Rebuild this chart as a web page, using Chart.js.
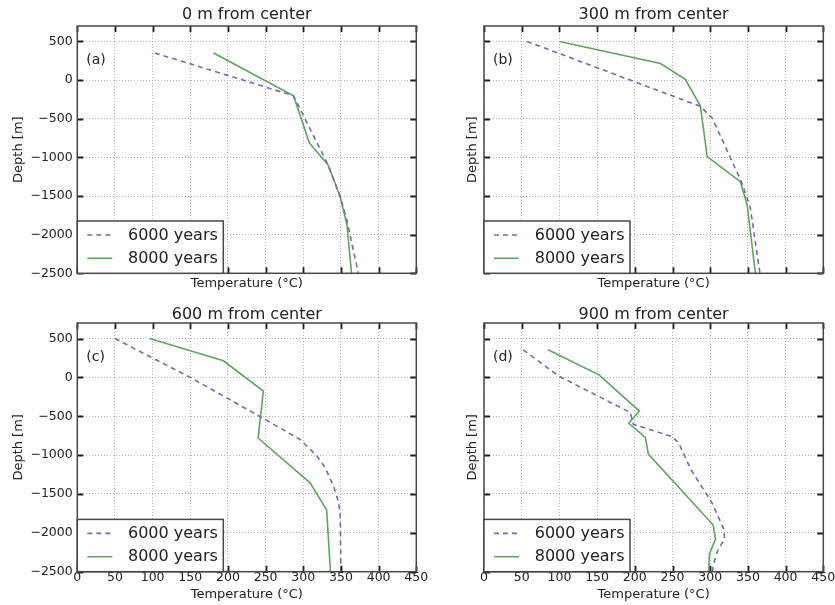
<!DOCTYPE html>
<html>
<head>
<meta charset="utf-8">
<script src="https://cdn.jsdelivr.net/npm/chart.js@4.4.1/dist/chart.umd.min.js"></script>
<style>
  html, body { margin: 0; padding: 0; background: #ffffff; }
  body { width: 835px; height: 605px; position: relative; overflow: hidden; font-family: "DejaVu Sans", sans-serif; }
  canvas { position: absolute; }
</style>
</head>
<body>
<canvas id="ca" width="440" height="300" style="left:0px;top:0px"></canvas>
<canvas id="cb" width="395" height="300" style="left:440px;top:0px"></canvas>
<canvas id="cc" width="440" height="305" style="left:0px;top:300px"></canvas>
<canvas id="cd" width="395" height="305" style="left:440px;top:300px"></canvas>
<script>
// ---------- data ----------
const xTicks = [0, 50, 100, 150, 200, 250, 300, 350, 400, 450];
const yTicks = [-2500, -2000, -1500, -1000, -500, 0, 500];
const panelTitles = ['0 m from center', '300 m from center', '600 m from center', '900 m from center'];
const panelLetters = ['(a)', '(b)', '(c)', '(d)'];
const seriesNames = ['6000 years', '8000 years'];
const xAxisTitle = 'Temperature (°C)';
const yAxisTitle = 'Depth [m]';

// (a) 0 m from center
const tempA6000 = [103, 220, 287, 333, 349, 358, 373];
const depthA6000 = [350, 0, -203, -1100, -1510, -1820, -2500];
const tempA8000 = [181, 287, 308, 333, 349, 358, 364];
const depthA8000 = [350, -203, -811, -1100, -1510, -1876, -2500];

// (b) 300 m from center
const tempB6000 = [57, 287, 303, 342, 353, 366];
const depthB6000 = [500, -340, -496, -1330, -1640, -2500];
const tempB8000 = [100, 234, 267, 287, 296, 340, 349, 360];
const depthB8000 = [500, 215, 9, -336, -990, -1315, -1617, -2500];

// (c) 600 m from center
const tempC6000 = [50, 150, 250, 296, 318, 329, 340, 347, 349, 350];
const depthC6000 = [500, 0, -545, -800, -1010, -1160, -1400, -1610, -1780, -2500];
const tempC8000 = [96, 194, 247, 240, 309, 331, 336];
const depthC8000 = [500, 214, -175, -780, -1357, -1705, -2500];

// (d) 900 m from center
const tempD6000 = [52, 99, 194, 198, 249, 258, 274, 302, 318, 319, 309, 304, 303];
const depthD6000 = [355, 17, -452, -603, -761, -838, -1180, -1607, -1950, -2077, -2248, -2420, -2500];
const tempD8000 = [85, 153, 206, 192, 214, 218, 304, 307, 299, 298];
const depthD8000 = [355, 30, -433, -590, -773, -987, -1900, -2080, -2270, -2500];

// ---------- styling ----------
const FONT = '"DejaVu Sans", sans-serif';
const TEXT = '#222222';
const COL6000 = '#6e6eb4';
const COL8000 = '#5ea55e';
const DASH6000 = [5, 4];

const toPoints = (ts, ds) => ts.map((t, i) => ({ x: t, y: ds[i] }));
const fmtY = v => (v < 0 ? '\u2212' + Math.abs(v) : String(v));

const decor = {
  id: 'decor',
  afterDatasetsDraw(chart, args, opts) {
    const { ctx, chartArea: ca, scales } = chart;
    const xs = scales.x, ys = scales.y;
    ctx.save();
    // inward tick marks on all four sides
    ctx.strokeStyle = '#1e1e1e';
    ctx.lineWidth = 1.8;
    ctx.beginPath();
    xTicks.forEach(v => {
      const px = Math.round(xs.getPixelForValue(v)) + 0.5;
      ctx.moveTo(px, ca.top); ctx.lineTo(px, ca.top + 6);
      ctx.moveTo(px, ca.bottom); ctx.lineTo(px, ca.bottom - 6);
    });
    yTicks.forEach(v => {
      const py = Math.round(ys.getPixelForValue(v)) + 0.5;
      ctx.moveTo(ca.left, py); ctx.lineTo(ca.left + 6, py);
      ctx.moveTo(ca.right, py); ctx.lineTo(ca.right - 6, py);
    });
    ctx.stroke();
    // frame
    ctx.strokeStyle = '#474747';
    ctx.lineWidth = 1.5;
    ctx.strokeRect(ca.left, ca.top, ca.right - ca.left, ca.bottom - ca.top);
    // legend box (bottom-left, inside plot)
    const lw = 146, lh = 52.3;
    const lx = ca.left, ly = ca.bottom - lh;
    ctx.fillStyle = '#ffffff';
    ctx.fillRect(lx, ly, lw, lh);
    ctx.strokeStyle = '#474747';
    ctx.lineWidth = 1.5;
    ctx.strokeRect(lx, ly, lw, lh);
    const rows = [ly + 14, ly + 37.3];
    chart.data.datasets.forEach((ds, i) => {
      ctx.save();
      ctx.strokeStyle = ds.borderColor;
      ctx.lineWidth = ds.borderWidth;
      ctx.setLineDash(ds.borderDash || []);
      ctx.beginPath();
      ctx.moveTo(lx + 10, rows[i]);
      ctx.lineTo(lx + 35, rows[i]);
      ctx.stroke();
      ctx.restore();
      ctx.fillStyle = TEXT;
      ctx.font = '16px ' + FONT;
      ctx.textAlign = 'left';
      ctx.textBaseline = 'middle';
      ctx.fillText(ds.label, lx + 50.7, rows[i] + 0.5);
    });
    // panel letter
    ctx.fillStyle = TEXT;
    ctx.font = '14px ' + FONT;
    ctx.textAlign = 'left';
    ctx.textBaseline = 'middle';
    ctx.fillText(opts.letter, ca.left + 9, ca.top + 34);
    ctx.restore();
  }
};

function makePanel(id, p) {
  const ctx = document.getElementById(id).getContext('2d');
  return new Chart(ctx, {
    type: 'line',
    data: {
      datasets: [
        {
          label: seriesNames[0],
          data: toPoints(p.t6, p.d6),
          borderColor: COL6000,
          borderWidth: 1.6,
          borderDash: DASH6000,
          pointRadius: 0,
          fill: false,
          tension: 0
        },
        {
          label: seriesNames[1],
          data: toPoints(p.t8, p.d8),
          borderColor: COL8000,
          borderWidth: 1.6,
          pointRadius: 0,
          fill: false,
          tension: 0
        }
      ]
    },
    options: {
      responsive: false,
      animation: false,
      devicePixelRatio: 1,
      layout: { padding: { left: 0, top: 0, right: p.padRight, bottom: 0 } },
      plugins: {
        legend: { display: false },
        tooltip: { enabled: false },
        title: {
          display: true,
          text: p.title,
          fullSize: false,
          color: TEXT,
          font: { family: FONT, size: 16, weight: 'normal', lineHeight: 1 },
          padding: { top: 7, bottom: p.titlePadBottom }
        },
        decor: { letter: p.letter }
      },
      scales: {
        x: {
          type: 'linear',
          position: 'bottom',
          min: 0,
          max: 450,
          afterBuildTicks: s => { s.ticks = xTicks.map(v => ({ value: v })); },
          afterFit: s => { s.height = p.xAxisHeight; s.paddingLeft = 0; s.paddingRight = 0; },
          ticks: {
            display: p.showX,
            autoSkip: false,
            maxRotation: 0,
            padding: 0,
            color: TEXT,
            font: { family: FONT, size: 12.5, lineHeight: 1 }
          },
          grid: { color: '#b4b4b4', lineWidth: 1, drawTicks: false, borderDash: [1, 2] },
          border: { display: false, dash: [1, 2] },
          title: {
            display: true,
            text: xAxisTitle,
            color: TEXT,
            font: { family: FONT, size: 13, lineHeight: 1.2 },
            padding: { top: 0, bottom: p.xTitlePadBottom }
          }
        },
        y: {
          type: 'linear',
          position: 'left',
          min: -2500,
          max: 700,
          afterBuildTicks: s => { s.ticks = yTicks.map(v => ({ value: v })); },
          afterFit: s => { s.width = p.yAxisWidth; s.paddingTop = 0; s.paddingBottom = 0; },
          ticks: {
            display: p.showY,
            padding: 4.6,
            color: TEXT,
            font: { family: FONT, size: 12.5 },
            callback: v => fmtY(v)
          },
          grid: { color: '#b4b4b4', lineWidth: 1, drawTicks: false, borderDash: [1, 2] },
          border: { display: false, dash: [1, 2] },
          title: {
            display: true,
            text: yAxisTitle,
            color: TEXT,
            font: { family: FONT, size: 13, lineHeight: 1.2 },
            padding: { top: p.yTitlePadTop, bottom: 0 }
          }
        }
      }
    },
    plugins: [decor]
  });
}

makePanel('ca', {
  t6: tempA6000, d6: depthA6000, t8: tempA8000, d8: depthA8000,
  title: panelTitles[0], letter: panelLetters[0],
  showX: false, showY: true, padRight: 23.7, titlePadBottom: 3,
  xAxisHeight: 26.7, yAxisWidth: 77.3, yTitlePadTop: 11.2, xTitlePadBottom: 8.9
});
makePanel('cb', {
  t6: tempB6000, d6: depthB6000, t8: tempB8000, d8: depthB8000,
  title: panelTitles[1], letter: panelLetters[1],
  showX: false, showY: false, padRight: 11.7, titlePadBottom: 3,
  xAxisHeight: 26.7, yAxisWidth: 44, yTitlePadTop: 24.5, xTitlePadBottom: 8.9
});
makePanel('cc', {
  t6: tempC6000, d6: depthC6000, t8: tempC8000, d8: depthC8000,
  title: panelTitles[2], letter: panelLetters[2],
  showX: true, showY: true, padRight: 23.7, titlePadBottom: 0,
  xAxisHeight: 33.3, yAxisWidth: 77.3, yTitlePadTop: 11.2, xTitlePadBottom: 2.2
});
makePanel('cd', {
  t6: tempD6000, d6: depthD6000, t8: tempD8000, d8: depthD8000,
  title: panelTitles[3], letter: panelLetters[3],
  showX: true, showY: false, padRight: 11.7, titlePadBottom: 0,
  xAxisHeight: 33.3, yAxisWidth: 44, yTitlePadTop: 24.5, xTitlePadBottom: 2.2
});
</script>
</body>
</html>
